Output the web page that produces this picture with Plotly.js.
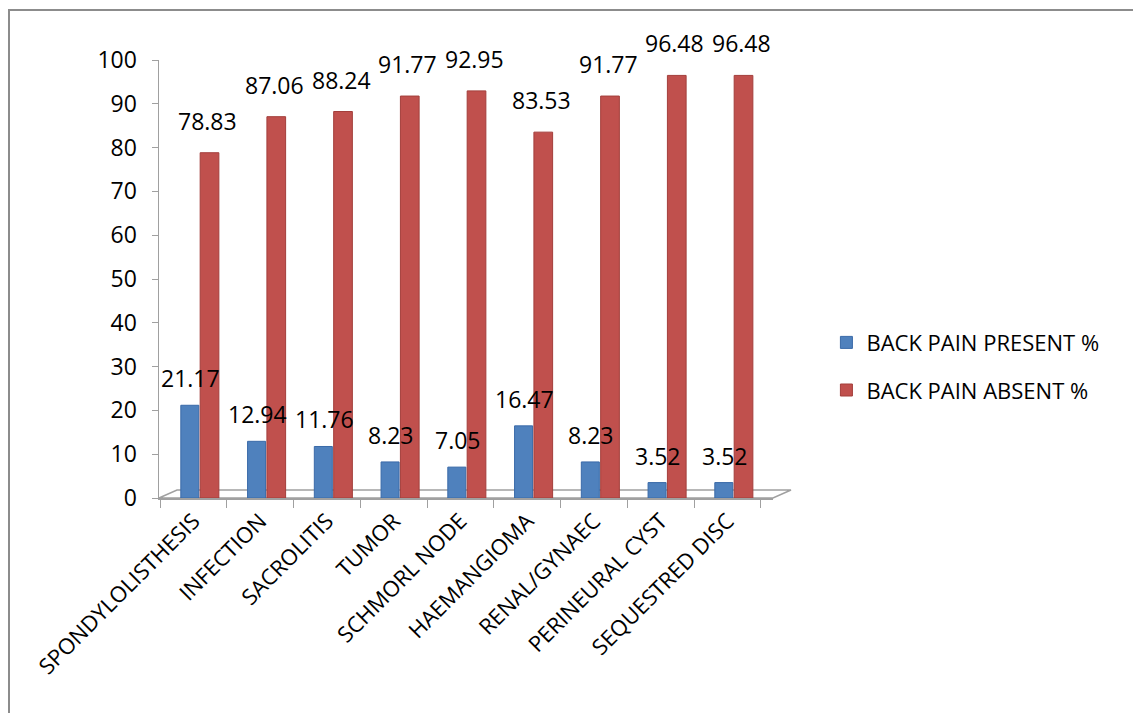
<!DOCTYPE html>
<html><head><meta charset="utf-8">
<script src="https://cdn.plot.ly/plotly-3.0.1.min.js"></script>
<style>html,body{margin:0;padding:0;background:#fff}#chart{width:1133px;height:713px}</style>
</head><body><div id="chart"></div>
<script>
var categories = ["SPONDYLOLISTHESIS","INFECTION","SACROLITIS","TUMOR","SCHMORL NODE","HAEMANGIOMA","RENAL/GYNAEC","PERINEURAL CYST","SEQUESTRED DISC"];
var presentValues = [21.17,12.94,11.76,8.23,7.05,16.47,8.23,3.52,3.52];
var absentValues = [78.83,87.06,88.24,91.77,92.95,83.53,91.77,96.48,96.48];
var presentName = "BACK PAIN PRESENT %";
var absentName = "BACK PAIN ABSENT %";
var yTicks = [0,10,20,30,40,50,60,70,80,90,100];

var FONT = "Open Sans, Liberation Sans, sans-serif";
var traces = [
  {type:"bar", name:presentName, x:categories, y:presentValues, legendgroup:"a",
   width:0.27, offset:-0.19,
   marker:{color:"#4F81BD", line:{color:"#3A6AA8", width:1}}, hoverinfo:"y"},
  {type:"bar", name:absentName, x:categories, y:absentValues, legendgroup:"b",
   width:0.28, offset:0.10,
   marker:{color:"#C0504D", line:{color:"#A33E3B", width:1}}, hoverinfo:"y"}
];
var annotations = [];
categories.forEach(function(c,i){
  annotations.push({x:c, y:presentValues[i], xref:"x", yref:"y", text:presentValues[i].toFixed(2),
    showarrow:false, xshift:-3, yshift:27, font:{family:FONT,size:23,color:"#000"}});
  annotations.push({x:c, y:absentValues[i], xref:"x", yref:"y", text:absentValues[i].toFixed(2),
    showarrow:false, xshift:14, yshift:32, font:{family:FONT,size:23,color:"#000"}});
});
var dx = 18/614, dy = 8/438;
var layout = {
  width:1133, height:713,
  margin:{l:159, r:360, t:60, b:215},
  paper_bgcolor:"#fff", plot_bgcolor:"rgba(0,0,0,0)",
  barmode:"overlay",
  showlegend:true,
  legend:{x:1.087, y:0.30, xanchor:"left", yanchor:"middle", tracegroupgap:16,
    font:{family:FONT,size:22,color:"#000"}, bgcolor:"rgba(0,0,0,0)"},
  xaxis:{type:"category", showline:true, linecolor:"#A0A0A0", linewidth:1.5,
    ticks:"outside", tickson:"boundaries", ticklen:8, tickcolor:"#A0A0A0",
    tickangle:-45, tickfont:{family:FONT,size:22,color:"#000"}, showgrid:false, zeroline:false},
  yaxis:{range:[0,100], tickvals:yTicks, showline:true, linecolor:"#A0A0A0", linewidth:1.5,
    ticks:"outside", ticklen:6, tickcolor:"#A0A0A0", showgrid:false, zeroline:false,
    ticklabelstandoff:10,
    tickfont:{family:FONT,size:23,color:"#000"}},
  annotations:annotations,
  shapes:[
    {type:"path", xref:"paper", yref:"paper", layer:"below",
     path:"M0,0 L"+dx+","+dy+" L"+(1+dx)+","+dy+" L1,0 Z",
     line:{color:"#A0A0A0", width:1.5}, fillcolor:"rgba(0,0,0,0)"},
    {type:"rect", xref:"paper", yref:"paper", x0:-0.2443, y0:-1, x1:2, y1:1.1142,
     line:{color:"#8C8C8C", width:2}, fillcolor:"rgba(0,0,0,0)"}
  ]
};
Plotly.newPlot("chart", traces, layout, {displayModeBar:false, staticPlot:true});
</script></body></html>
